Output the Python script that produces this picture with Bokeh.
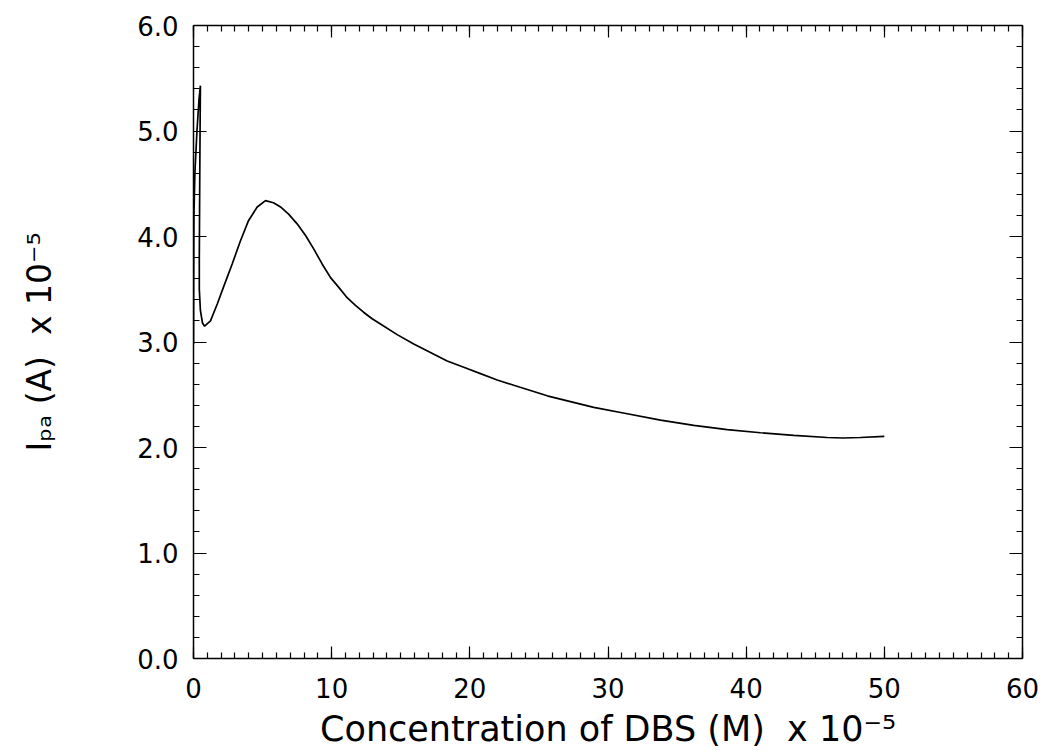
from bokeh.plotting import figure
from bokeh.models import LinearAxis, FixedTicker, PrintfTickFormatter, Range1d
from bokeh.embed import file_html
from bokeh.resources import INLINE

# Data: concentration of DBS (x 10^-5 M) vs anodic peak current (x 10^-5 A)
conc = [0.0, 0.01, 0.03, 0.1, 0.25, 0.4, 0.5, 0.48, 0.45, 0.42, 0.42, 0.5, 0.65, 0.8,
        1.23, 1.72, 2.17, 2.8, 3.4, 3.98, 4.61, 5.21, 5.79, 6.3, 6.9, 7.5, 8.11, 8.71,
        9.31, 9.92, 10.5, 11.12, 11.7, 12.33, 12.93, 13.53, 14.74, 15.94, 17.15, 18.36,
        19.56, 20.77, 21.98, 23.18, 25.6, 28.97, 31.39, 33.8, 36.21, 38.63, 41.04,
        43.45, 45.86, 47.0, 48.27, 50.0]
current = [2.98, 3.6, 4.2, 4.6, 5.0, 5.3, 5.43, 5.1, 4.5, 3.8, 3.5, 3.3, 3.18, 3.15,
           3.20, 3.36, 3.52, 3.74, 3.96, 4.15, 4.28, 4.34, 4.32, 4.28, 4.21, 4.12, 4.01, 3.88,
           3.74, 3.61, 3.52, 3.42, 3.35, 3.28, 3.22, 3.17, 3.07, 2.98, 2.90, 2.82,
           2.76, 2.70, 2.64, 2.59, 2.49, 2.38, 2.32, 2.26, 2.21, 2.17, 2.14,
           2.115, 2.095, 2.09, 2.095, 2.105]

x_ticks = [0, 10, 20, 30, 40, 50, 60]
y_ticks = [0, 1, 2, 3, 4, 5, 6]
x_minor = [i for i in range(0, 61)]
y_minor = [round(i * 0.2, 1) for i in range(0, 31)]

x_title = "Concentration of DBS (M)\u00a0\u00a0x 10\u207b\u2075"
y_title = "I\u209a\u2090 (A)\u00a0\u00a0x 10\u207b\u2075"

W, H = 1044, 751
FONT = "DejaVu Sans"

p = figure(width=W, height=H, x_range=Range1d(0, 60), y_range=Range1d(0, 6),
           output_backend="svg", toolbar_location=None,
           min_border_left=193, min_border_right=22, min_border_top=25, min_border_bottom=93,
           x_axis_location=None, y_axis_location=None)
p.grid.visible = False
p.outline_line_color = None
p.background_fill_color = "white"
p.border_fill_color = "white"


def make_axis(show_labels, ticks, minor, tick_len):
    ax = LinearAxis(ticker=FixedTicker(ticks=ticks, minor_ticks=minor))
    ax.major_tick_in = tick_len
    ax.major_tick_out = 0
    ax.minor_tick_in = 6
    ax.minor_tick_out = 0
    ax.axis_line_color = "black"
    ax.axis_line_width = 1.5
    ax.major_tick_line_color = "black"
    ax.major_tick_line_width = 1.2
    ax.minor_tick_line_color = "black"
    ax.minor_tick_line_width = 1.2
    if show_labels:
        ax.major_label_text_font = FONT
        ax.major_label_text_font_size = "26px"
        ax.major_label_text_color = "black"
    else:
        ax.major_label_text_font_size = "0px"
        ax.major_label_text_color = None
        ax.major_label_standoff = 0
    return ax


xb = make_axis(True, x_ticks, x_minor, 12)
xb.major_label_standoff = 19
xb.axis_label = x_title
xb.axis_label_text_font = FONT
xb.axis_label_text_font_size = "35px"
xb.axis_label_text_font_style = "normal"
xb.axis_label_text_color = "black"
xb.axis_label_standoff = 8

yl = make_axis(True, y_ticks, y_minor, 13)
yl.formatter = PrintfTickFormatter(format="%.1f")
yl.major_label_standoff = 15
yl.axis_label = y_title
yl.axis_label_text_font = FONT
yl.axis_label_text_font_size = "33px"
yl.axis_label_text_font_style = "normal"
yl.axis_label_text_color = "black"
yl.axis_label_standoff = 75

xt = make_axis(False, x_ticks, x_minor, 12)
yr = make_axis(False, y_ticks, y_minor, 13)
p.add_layout(xb, "below")
p.add_layout(yl, "left")
p.add_layout(xt, "above")
p.add_layout(yr, "right")

p.line(conc, current, line_color="black", line_width=1.7)

open("out.html", "w").write(file_html(p, INLINE))
